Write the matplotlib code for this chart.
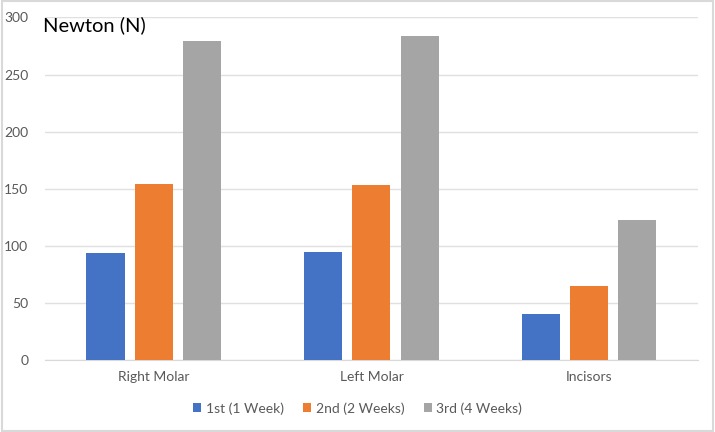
import matplotlib
matplotlib.use("Agg")
import matplotlib.pyplot as plt
import numpy as np
from matplotlib.patches import Rectangle

plt.rcParams["font.family"] = ["Lato", "DejaVu Sans"]

categories = ["Right Molar", "Left Molar", "Incisors"]
series_names = ["1st (1 Week)", "2nd (2 Weeks)", "3rd (4 Weeks)"]
week1 = [94, 95, 40]
week2 = [154, 153, 65]
week4 = [279, 284, 123]
colors = ["#4472C4", "#ED7D31", "#A5A5A5"]
y_ticks = [0, 50, 100, 150, 200, 250, 300]

fig = plt.figure(figsize=(7.15, 4.32), dpi=100)
ax = fig.add_axes([0.063, 0.1667, 0.913, 0.793])

x = np.arange(len(categories))
step = 0.222
width = 0.175
for i, (vals, name) in enumerate(zip([week1, week2, week4], series_names)):
    ax.bar(x + (i - 1) * step, vals, width, color=colors[i], label=name, zorder=3)

ax.set_xlim(-0.5, 2.5)
ax.set_ylim(0, 300)
ax.set_yticks(y_ticks)
ax.set_xticks(x)
ax.set_xticklabels(categories)
ax.yaxis.grid(True, color="#e0e0e0", linewidth=1, zorder=0)
for side in ["top", "right", "left"]:
    ax.spines[side].set_visible(False)
ax.spines["bottom"].set_color("#d9d9d9")
ax.tick_params(axis="both", length=0, colors="#595959", labelsize=10)
ax.tick_params(axis="x", pad=8)
ax.tick_params(axis="y", pad=12)

fig.text(0.06, 0.942, "Newton (N)", fontsize=14.5, color="#000000", va="center", ha="left")

ax.legend(loc="center", bbox_to_anchor=(0.5, 0.055), bbox_transform=fig.transFigure,
          ncol=3, frameon=False, fontsize=10, handlelength=0.6, handleheight=0.6,
          columnspacing=1.4, handletextpad=0.3, labelcolor="#595959")

fig.patches.append(Rectangle((0.003, 0.003), 0.994, 0.994, transform=fig.transFigure,
                             fill=False, edgecolor="#d9d9d9", linewidth=1.5))

fig.savefig("out.png", dpi=100)
